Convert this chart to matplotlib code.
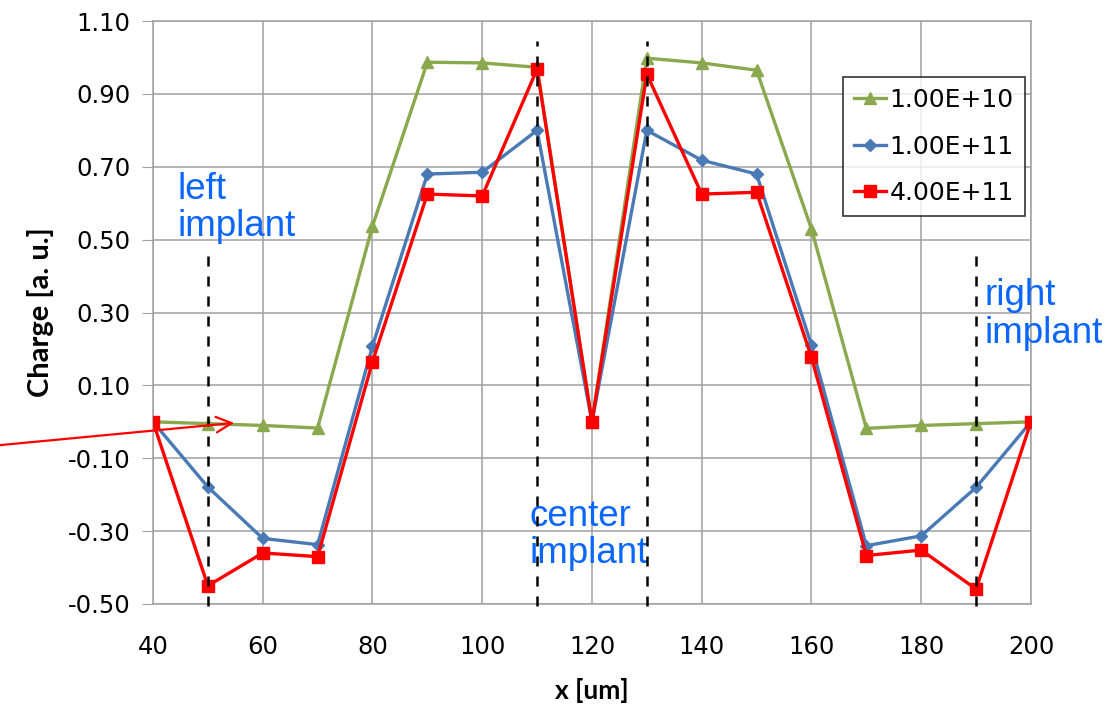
import matplotlib
matplotlib.use('Agg')
import matplotlib.pyplot as plt
import numpy as np

# x positions [um]
x_um = [40, 50, 60, 70, 80, 90, 100, 110, 120, 130, 140, 150, 160, 170, 180, 190, 200]

# charge for each fluence
charge_1e10 = [0.0, -0.005, -0.01, -0.017, 0.537, 0.987, 0.985, 0.973, 0.0,
               0.998, 0.985, 0.965, 0.529, -0.018, -0.01, -0.005, 0.0]
charge_1e11 = [0.0, -0.179, -0.32, -0.337, 0.208, 0.68, 0.685, 0.80, 0.0,
               0.80, 0.718, 0.68, 0.21, -0.34, -0.313, -0.18, 0.0]
charge_4e11 = [0.0, -0.45, -0.36, -0.37, 0.165, 0.625, 0.62, 0.968, 0.0,
               0.954, 0.625, 0.63, 0.177, -0.367, -0.352, -0.459, 0.0]

series_labels = ['1.00E+10', '1.00E+11', '4.00E+11']
y_ticks = [-0.50, -0.30, -0.10, 0.10, 0.30, 0.50, 0.70, 0.90, 1.10]
x_ticks = [40, 60, 80, 100, 120, 140, 160, 180, 200]

# implant markers (x, top of dashed line)
implant_x = [50, 110, 130, 190]
implant_top = [0.477, 1.045, 1.045, 0.47]

txt_blue = '#0a66ff'

fig = plt.figure(figsize=(11.2, 7.08), dpi=100)
ax = fig.add_axes([0.1366, 0.1469, 0.7839, 0.8234])

ax.plot(x_um, charge_1e10, color='#8aa84e', lw=2.4, marker='^', ms=9,
        label=series_labels[0], zorder=3)
ax.plot(x_um, charge_1e11, color='#4a7ab5', lw=2.4, marker='D', ms=6,
        label=series_labels[1], zorder=4)
ax.plot(x_um, charge_4e11, color='#ff0000', lw=2.4, marker='s', ms=8,
        label=series_labels[2], zorder=5)

for xi, top in zip(implant_x, implant_top):
    ax.plot([xi, xi], [-0.505, top], color='black', lw=1.8, ls=(0, (4, 4)),
            zorder=6, clip_on=False)

ax.set_xlim(40, 200)
ax.set_ylim(-0.50, 1.10)
ax.set_xticks(x_ticks)
ax.set_yticks(y_ticks)
ax.set_yticklabels(['%.2f' % v for v in y_ticks])
ax.grid(True, color='#a0a0a0', lw=1.1)
ax.set_axisbelow(True)
for s in ax.spines.values():
    s.set_color('#a0a0a0')
    s.set_linewidth(1.1)

ax.tick_params(axis='y', length=8, color='#a0a0a0', labelsize=17.5, pad=8)
ax.tick_params(axis='x', length=0, labelsize=17.5, pad=22)
for lab in ax.get_xticklabels() + ax.get_yticklabels():
    lab.set_family('DejaVu Sans')

ax.set_xlabel('x [um]', fontsize=19, fontweight='bold', family='Lato', labelpad=14)
ax.set_ylabel('Charge [a. u.]', fontsize=21, fontweight='bold', family='Lato', labelpad=10)

leg = ax.legend(loc='upper left', bbox_to_anchor=(0.786, 0.904), fontsize=18,
                frameon=True, fancybox=False, edgecolor='black', handlelength=1.25,
                handletextpad=0.15, borderpad=0.45, labelspacing=0.9,
                borderaxespad=0)
leg.get_frame().set_linewidth(1.2)
leg.set_zorder(10)

tkw = dict(color=txt_blue, fontsize=26.5, family='Liberation Sans', linespacing=1.1)
ax.text(44.5, 0.487, 'left\nimplant', ha='left', va='bottom', **tkw)
ax.text(108.6, -0.41, 'center\nimplant', ha='left', va='bottom', **tkw)
ax.text(191.5, 0.195, 'right\nimplant', ha='left', va='bottom', clip_on=False, **tkw)

ax.annotate('', xy=(54.8, -0.003), xytext=(12.1, -0.064),
            arrowprops=dict(arrowstyle='->', color='red', lw=1.6,
                            mutation_scale=28, shrinkA=0, shrinkB=0),
            annotation_clip=False, zorder=7)

fig.savefig('out.png', dpi=100)
